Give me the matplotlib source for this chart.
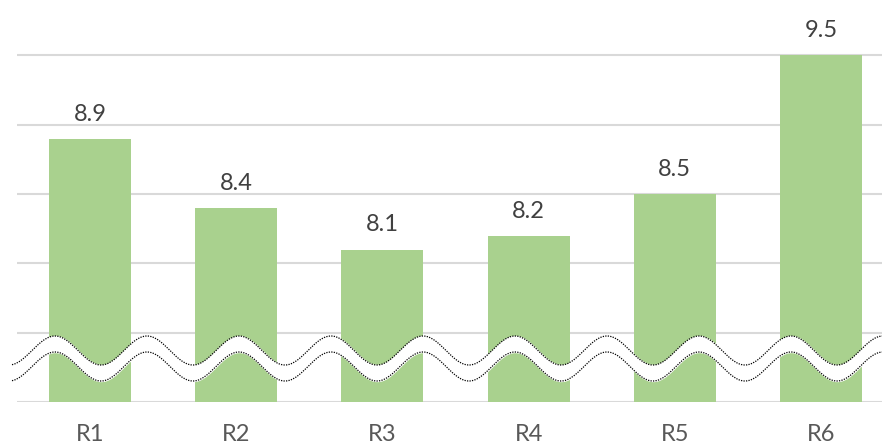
import numpy as np
import matplotlib.pyplot as plt

categories = ["R1", "R2", "R3", "R4", "R5", "R6"]
values = [8.9, 8.4, 8.1, 8.2, 8.5, 9.5]
grid_values = [7.0, 7.5, 8.0, 8.5, 9.0, 9.5]

plt.rcParams['font.family'] = ['Lato', 'DejaVu Sans']

W, H = 882, 446
fig = plt.figure(figsize=(W / 100, H / 100), dpi=100)

# main axes: left edge at px 17, extends a bit past the right side (cropped chart)
ax = fig.add_axes([17 / W, 44 / H, (894 - 17) / W, 402 / H])
x = np.arange(len(categories))
bars = ax.bar(x, values, width=0.56, color="#a9d18e", zorder=2)
ax.set_xlim(-0.5, len(categories) - 0.5)
ax.set_ylim(7.0, 9.9)

for v in grid_values:
    ax.axhline(v, color="#d9d9d9", linewidth=1.5, zorder=1)

for xi, v in zip(x, values):
    ax.annotate(f"{v:.1f}", (xi, v), xytext=(0, 13), textcoords="offset points",
                ha="center", va="baseline", fontsize=17, color="#404040")

ax.set_xticks(x)
ax.set_xticklabels(categories, fontsize=17, color="#595959")
ax.tick_params(axis="x", length=0, pad=15.5)
ax.set_yticks([])
for s in ax.spines.values():
    s.set_visible(False)

# axis-break decoration drawn in pixel space
ov = fig.add_axes([0, 0, 1, 1])
ov.set_xlim(0, W)
ov.set_ylim(H, 0)
ov.axis("off")
ov.patch.set_alpha(0)
wx = np.linspace(12, W, 600)
upper = 350.5 - 14.5 * np.cos(2 * np.pi * (wx - 55) / 92)
lower = upper + 16
ov.fill_between(wx, upper, lower, color="white", zorder=3)
ov.plot(wx, upper, color="black", linewidth=0.9, linestyle=(0, (1, 1)), zorder=4)
ov.plot(wx, lower, color="black", linewidth=0.9, linestyle=(0, (1, 1)), zorder=4)

fig.savefig("out.png", dpi=100)
